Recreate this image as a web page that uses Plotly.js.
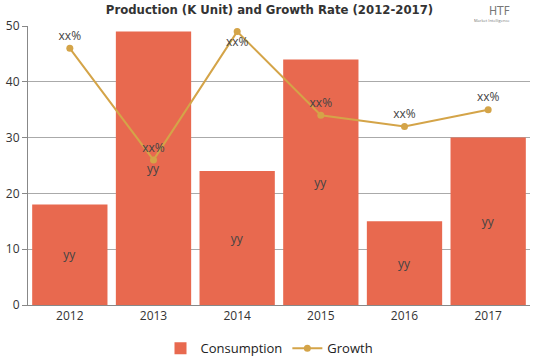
<!DOCTYPE html>
<html>
<head>
<meta charset="utf-8">
<script src="https://cdn.plot.ly/plotly-3.0.1.min.js"></script>
<style>html,body{margin:0;padding:0;background:#fff;}#chart{width:539px;height:359px;}</style>
</head>
<body>
<div id="chart"></div>
<script>
const years = ['2012', '2013', '2014', '2015', '2016', '2017'];
const consumption = [18, 49, 24, 44, 15, 30];
const growth = [46, 26, 49, 34, 32, 35];
const barLabels = ['yy', 'yy', 'yy', 'yy', 'yy', 'yy'];
const lineLabels = ['xx%', 'xx%', 'xx%', 'xx%', 'xx%', 'xx%'];
const yTicks = [0, 10, 20, 30, 40, 50];

const font = 'Open Sans, Noto Sans, sans-serif';

const data = [
  {
    type: 'bar', name: 'Consumption', x: years, y: consumption,
    text: barLabels, textposition: 'inside', insidetextanchor: 'middle',
    textfont: {family: font, size: 12, color: '#444'},
    marker: {color: '#E8694F'}, hoverinfo: 'none'
  },
  {
    type: 'scatter', mode: 'lines+markers+text', name: 'Growth', x: years, y: growth,
    text: lineLabels,
    textposition: ['top center', 'top center', 'bottom center', 'top center', 'top center', 'top center'],
    textfont: {family: font, size: 12, color: '#444'},
    line: {color: '#D4A448', width: 2}, marker: {color: '#D4A448', size: 7},
    hoverinfo: 'none', cliponaxis: false
  }
];

const layout = {
  width: 539, height: 359,
  margin: {l: 28, r: 9, t: 26, b: 54},
  paper_bgcolor: '#fff', plot_bgcolor: '#fff',
  bargap: 0.1,
  showlegend: true,
  legend: {orientation: 'h', x: 0.5, xanchor: 'center', xref: 'container',
           y: 0.03, yanchor: 'middle', yref: 'container',
           itemwidth: 30, tracegroupgap: 0,
           font: {family: font, size: 13, color: '#222'}},
  title: {text: '<b>Production (K Unit) and Growth Rate (2012-2017)</b>',
          font: {family: 'Liberation Sans Narrow, DejaVu Sans Condensed, sans-serif', size: 13, color: '#333'},
          x: 0.5, xanchor: 'center', y: 0.985, yanchor: 'top'},
  xaxis: {type: 'category', showline: true, linecolor: '#888', linewidth: 1,
          ticks: '', tickfont: {family: font, size: 12, color: '#333'}, showgrid: false},
  yaxis: {range: [0, 50], tickvals: yTicks, showline: true, linecolor: '#888', linewidth: 1,
          ticks: 'outside', ticklen: 5, tickcolor: '#888',
          gridcolor: '#aaa', gridwidth: 1, zeroline: false,
          tickfont: {family: font, size: 12, color: '#333'}},
  annotations: [
    {text: 'HTF', xref: 'paper', yref: 'paper', x: 0.965, y: 1.085, showarrow: false,
     font: {family: 'DejaVu Sans Condensed, sans-serif', size: 12, color: '#777'}},
    {text: 'Market Intelligence', xref: 'paper', yref: 'paper', x: 0.965, y: 1.035, showarrow: false,
     font: {family: font, size: 4, color: '#777'}}
  ]
};

Plotly.newPlot('chart', data, layout, {displayModeBar: false, staticPlot: true});
</script>
</body>
</html>
